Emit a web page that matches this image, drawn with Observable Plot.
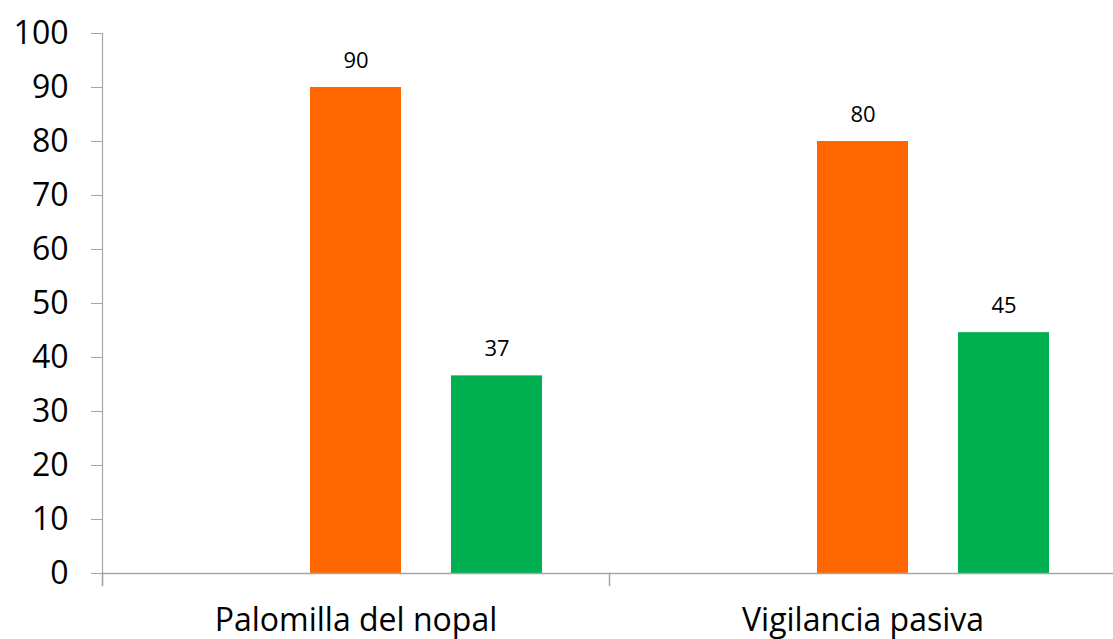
<!DOCTYPE html>
<html><head><meta charset="utf-8">
<script src="https://cdn.jsdelivr.net/npm/d3@7"></script>
<script src="https://cdn.jsdelivr.net/npm/@observablehq/plot@0.6"></script>
<style>body{margin:0;background:#fff;}</style>
</head><body><div id="chart"></div>
<script>
const categories = ["Palomilla del nopal", "Vigilancia pasiva"];
const seriesNames = ["Serie 1", "Serie 2", "Serie 3"];
const serie1 = [null, null];
const serie2 = [90, 80];
const serie3 = [36.6, 44.6];
const seriesColors = ["#4F81BD", "#FF6600", "#00B050"];
const yTicks = [0, 10, 20, 30, 40, 50, 60, 70, 80, 90, 100];

const rows = [];
[serie1, serie2, serie3].forEach((vals, s) =>
  vals.forEach((v, i) => { if (v != null) rows.push({category: categories[i], series: seriesNames[s], value: v}); })
);

const axisGrey = "#A6A6A6";
const chart = Plot.plot({
  width: 1113, height: 639,
  marginLeft: 102, marginRight: -3, marginTop: 33, marginBottom: 66,
  style: {fontFamily: "'Open Sans', sans-serif", background: "white", color: "black"},
  fx: {domain: categories, padding: 0, label: null},
  x: {domain: seriesNames, paddingInner: 0.355, paddingOuter: 0.47, axis: null},
  y: {domain: [0, 100], label: null},
  color: {domain: seriesNames, range: seriesColors},
  marks: [
    Plot.barY(rows, {fx: "category", x: "series", y: "value", fill: "series"}),
    Plot.ruleY([0], {stroke: axisGrey, strokeWidth: 1.5}),
    Plot.frame({anchor: "left", facetAnchor: "left", stroke: axisGrey, strokeWidth: 1.2, insetBottom: -12}),
    Plot.frame({anchor: "left", stroke: axisGrey, strokeWidth: 1.5, insetTop: 540, insetBottom: -12}),
    Plot.axisY(yTicks, {tickSize: 11, tickPadding: 23, fontSize: 32, stroke: axisGrey, fill: "black", label: null}),
    Plot.axisFx({anchor: "bottom", tickSize: 0, tickPadding: 35, fontSize: 32, fill: "black", label: null}),
    Plot.text(rows, {fx: "category", x: "series", y: "value", text: d => d3.format(".0f")(d.value), lineAnchor: "bottom", dy: -20, fontSize: 22, fill: "black"})
  ]
});
document.getElementById("chart").appendChild(chart);
</script>
</body></html>
